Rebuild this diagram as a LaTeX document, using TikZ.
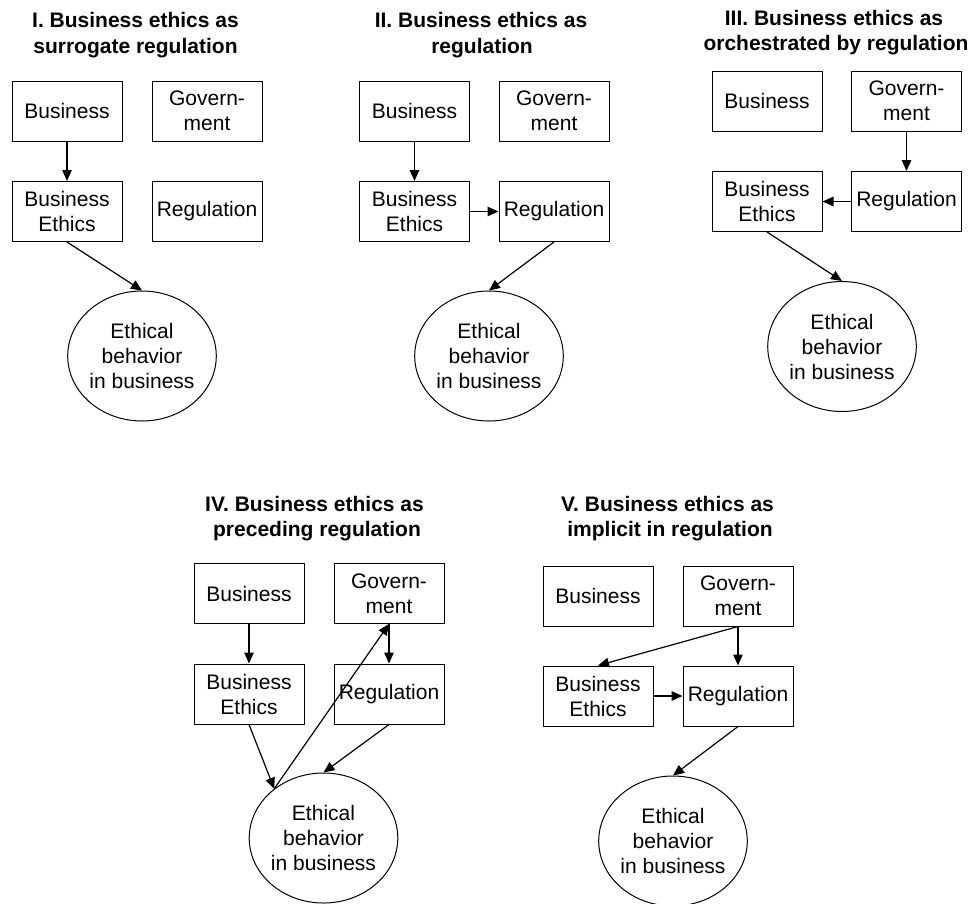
\documentclass[tikz,border=0pt]{standalone}
\usepackage{fontspec}
\setmainfont{Liberation Sans}
\usetikzlibrary{arrows.meta,shapes.geometric}
\tikzset{
  box/.style={draw=black,line width=1pt,rectangle,minimum width=110pt,minimum height=60pt,inner sep=0pt,align=center,font=\fontsize{21}{25}\selectfont},
  circ/.style={draw=black,line width=1pt,ellipse,minimum width=140pt,minimum height=130pt,inner sep=0pt,align=center,font=\fontsize{21}{25}\selectfont},
  ttl/.style={anchor=base,inner sep=0pt,font=\fontsize{21}{25}\selectfont\bfseries},
  arr/.style={line width=1.2pt,-{Triangle[length=11pt,width=9.5pt]}}
}
\begin{document}
\begin{tikzpicture}[x=1pt,y=-1pt]
\useasboundingbox (0,0) rectangle (971,903);
% ---------- Panel I ----------
\node[ttl] (t1a) at (135.5,27) {I. Business ethics as};
\node[ttl] (t1b) at (135.5,53) {surrogate regulation};
\node[box] (b1) at (67,111) {Business};
\node[box] (g1) at (207,111) {Govern-\\ment};
\node[box] (e1) at (67,211.5) {Business\\Ethics};
\node[box] (r1) at (207,211.5) {Regulation};
\node[circ] (c1) at (142,356) {Ethical\\behavior\\in business};
\draw[arr] (b1.south) -- (e1.north);
\draw[arr] (e1.south) -- (c1.north);
% ---------- Panel II ----------
\node[ttl] (t2a) at (481,27) {II. Business ethics as};
\node[ttl] (t2b) at (482,53) {regulation};
\node[box] (b2) at (414.5,111) {Business};
\node[box] (g2) at (554,111) {Govern-\\ment};
\node[box] (e2) at (414.5,211.5) {Business\\Ethics};
\node[box] (r2) at (554,211.5) {Regulation};
\node[circ] (c2) at (489,356) {Ethical\\behavior\\in business};
\draw[arr] (b2.south) -- (e2.north);
\draw[arr] (e2.east) -- (r2.west);
\draw[arr] (r2.south) -- (c2.north);
% ---------- Panel III ----------
\node[ttl] (t3a) at (834,25) {III. Business ethics as};
\node[ttl] (t3b) at (836,50) {orchestrated by regulation};
\node[box] (b3) at (767,101) {Business};
\node[box] (g3) at (906.5,101) {Govern-\\ment};
\node[box] (e3) at (767,201.5) {Business\\Ethics};
\node[box] (r3) at (906.5,201.5) {Regulation};
\node[circ] (c3) at (842,346.5) {Ethical\\behavior\\in business};
\draw[arr] (g3.south) -- (r3.north);
\draw[arr] (r3.west) -- (e3.east);
\draw[arr] (e3.south) -- (c3.north);
% ---------- Panel IV ----------
\node[ttl] (t4a) at (314.5,511) {IV. Business ethics as};
\node[ttl] (t4b) at (317,536) {preceding regulation};
\node[box] (b4) at (249,593.5) {Business};
\node[box] (g4) at (389,593.5) {Govern-\\ment};
\node[box] (e4) at (249,694) {Business\\Ethics};
\node[box] (r4) at (389,694) {Regulation};
\node[circ] (c4) at (323.5,838) {Ethical\\behavior\\in business};
\draw[arr] (b4.south) -- (e4.north);
\draw[arr] (g4.south) -- (r4.north);
\draw[arr] (e4.south) -- (c4.135);
\draw[arr] (r4.south) -- (c4.north);
\draw[arr] (c4.135) -- (g4.south);
% ---------- Panel V ----------
\node[ttl] (t5a) at (667.5,511) {V. Business ethics as};
\node[ttl] (t5b) at (670,536) {implicit in regulation};
\node[box] (b5) at (598,596) {Business};
\node[box] (g5) at (738,596) {Govern-\\ment};
\node[box] (e5) at (598,696) {Business\\Ethics};
\node[box] (r5) at (738,696) {Regulation};
\node[circ] (c5) at (673,841) {Ethical\\behavior\\in business};
\draw[arr] (g5.south) -- (r5.north);
\draw[arr] (g5.south) -- (e5.north);
\draw[arr] (e5.east) -- (r5.west);
\draw[arr] (r5.south) -- (c5.north);
\end{tikzpicture}
\end{document}
